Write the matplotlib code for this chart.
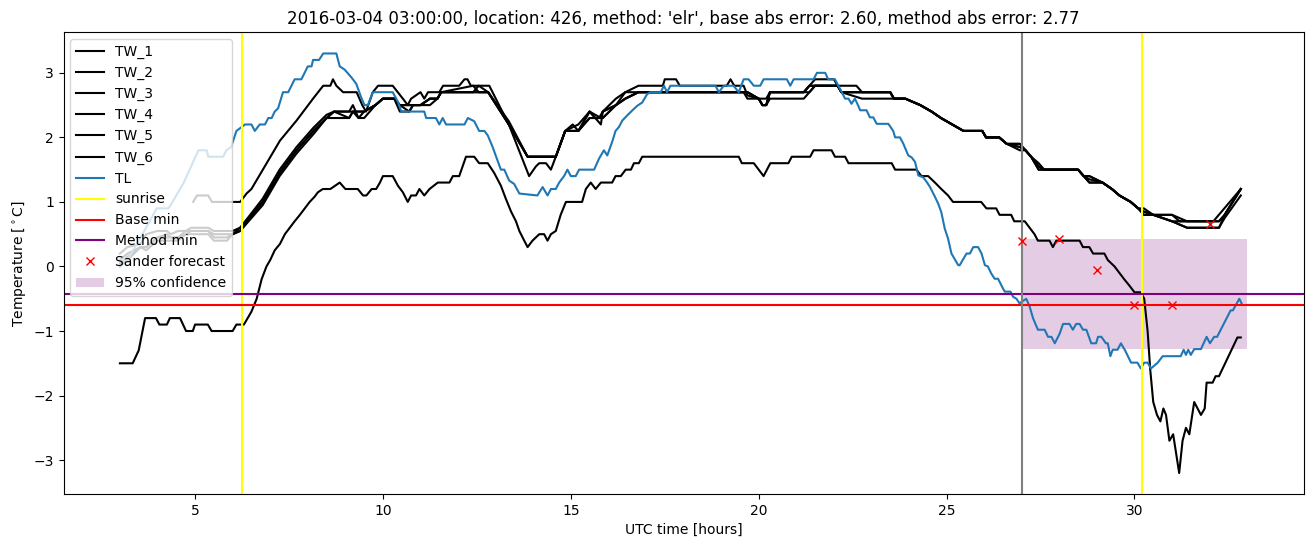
import numpy as np
import matplotlib
matplotlib.use("Agg")
import matplotlib.pyplot as plt

# ---------------- data ----------------
title = ("2016-03-04 03:00:00, location: 426, method: 'elr', "
         "base abs error: 2.60, method abs error: 2.77")

# TW_1 (upper single line that later merges into bundle)
tw1_hours = [4.95, 5.05, 5.35, 5.45, 6.2, 6.37, 6.5, 7.26, 7.7, 8.14, 8.41, 8.6,
             8.67, 8.76, 8.94, 9.3, 9.45, 9.55, 9.73, 9.87, 10.26, 10.53, 10.66, 10.75, 11.0, 11.1,
             11.2, 11.5, 11.6, 12.03, 12.17, 12.25, 12.34, 12.83, 13.35, 13.89, 14.07, 14.16, 14.34,
             14.47, 14.6, 14.85, 15.05, 15.2, 15.5, 15.65, 15.75, 15.85, 16.2, 16.45, 16.8, 17.45,
             17.5, 17.8, 17.9, 19.15, 19.25, 19.35, 19.6, 19.7, 20.0, 20.1, 20.2, 20.3, 21.2, 21.35,
             21.5, 22.0, 22.1, 22.6, 22.75, 23.5, 23.6, 23.9, 24.3, 24.6, 24.85, 25.15, 25.45, 25.95,
             26.05, 26.4, 26.6, 26.95, 27.1, 27.25, 27.45, 28.5, 28.65, 28.8, 29.15, 29.4, 29.6, 29.9,
             30.1, 30.25, 30.5, 31.0, 31.2, 31.9, 32.1, 32.83]
tw1_vals = [1.0, 1.1, 1.1, 1.0, 1.0, 1.13, 1.2, 1.95, 2.26, 2.6, 2.8, 2.8,
            2.9, 2.8, 2.7, 2.7, 2.5, 2.4, 2.7, 2.8, 2.8, 2.6, 2.5, 2.6, 2.7, 2.6,
            2.7, 2.7, 2.8, 2.8, 2.9, 2.9, 2.8, 2.8, 2.2, 1.4, 1.55, 1.6, 1.6,
            1.5, 1.7, 2.1, 2.2, 2.1, 2.4, 2.3, 2.3, 2.4, 2.6, 2.7, 2.8, 2.8,
            2.9, 2.9, 2.8, 2.8, 2.9, 2.8, 2.8, 2.65, 2.6, 2.5, 2.5, 2.7, 2.7, 2.8,
            2.9, 2.9, 2.8, 2.8, 2.7, 2.7, 2.6, 2.6, 2.5, 2.4, 2.3, 2.2, 2.1, 2.1,
            2.0, 2.0, 1.9, 1.9, 1.8, 1.7, 1.5, 1.5, 1.4, 1.3, 1.3, 1.2, 1.1, 1.0,
            0.9, 0.8, 0.8, 0.8, 0.7, 0.7, 0.7, 1.2]

# TW_2 .. TW_5 (bundle) share these hours
bundle_hours = [3.0, 3.2, 3.55, 3.7, 4.0, 4.25, 4.35, 4.55, 4.75, 4.9,
                5.35, 5.5, 5.85, 6.0, 6.2, 6.8, 7.25, 7.7, 8.15, 8.5,
                8.7, 9.1, 9.2, 9.35, 9.5, 9.8, 10.0, 10.3, 10.45, 10.7,
                10.8, 11.0, 11.25, 11.45, 11.55, 12.4, 12.55, 12.8, 13.35, 13.85,
                14.6, 14.85, 15.2, 15.5, 15.8, 15.85, 16.2, 16.45, 16.8, 17.25,
                19.6, 19.7, 20.0, 20.1, 20.2, 20.3, 21.2, 21.35, 21.5, 22.0,
                22.1, 22.2, 22.75, 23.5, 23.6, 23.9, 24.3, 24.6, 24.85, 25.15,
                25.45, 25.95, 26.05, 26.4, 26.6, 26.95, 27.1, 27.25, 27.45, 27.6,
                28.5, 28.65, 28.8, 29.15, 29.4, 29.6, 29.9, 30.1, 30.25, 30.5,
                31.0, 31.4, 32.25, 32.4, 32.83]
tw2_vals = [0.2, 0.3, 0.35, 0.5, 0.55, 0.55, 0.5, 0.55, 0.55, 0.6,
            0.6, 0.55, 0.55, 0.55, 0.6, 1.05, 1.5, 1.85, 2.15, 2.35,
            2.4, 2.4, 2.5, 2.3, 2.4, 2.5, 2.6, 2.6, 2.4, 2.4,
            2.5, 2.5, 2.6, 2.6, 2.7, 2.8, 2.7, 2.7, 2.25, 1.7,
            1.7, 2.1, 2.2, 2.4, 2.2, 2.4, 2.5, 2.7, 2.7, 2.7,
            2.7, 2.6, 2.6, 2.5, 2.5, 2.7, 2.7, 2.8, 2.8, 2.8,
            2.8, 2.7, 2.7, 2.7, 2.6, 2.6, 2.5, 2.4, 2.3, 2.2,
            2.1, 2.1, 2.0, 2.0, 1.9, 1.9, 1.8, 1.7, 1.6, 1.5,
            1.5, 1.4, 1.4, 1.3, 1.2, 1.1, 1.0, 0.9, 0.9, 0.8,
            0.8, 0.7, 0.7, 0.8, 1.2]
tw3_vals = [0.0, 0.1, 0.3, 0.25, 0.4, 0.4, 0.4, 0.4, 0.5, 0.5,
            0.5, 0.4, 0.4, 0.5, 0.55, 0.95, 1.4, 1.75, 2.05, 2.3,
            2.4, 2.3, 2.4, 2.4, 2.4, 2.5, 2.6, 2.6, 2.5, 2.5,
            2.5, 2.5, 2.6, 2.6, 2.7, 2.7, 2.7, 2.7, 2.2, 1.7,
            1.7, 2.1, 2.1, 2.3, 2.3, 2.4, 2.5, 2.6, 2.7, 2.7,
            2.7, 2.7, 2.6, 2.5, 2.5, 2.7, 2.7, 2.8, 2.8, 2.8,
            2.8, 2.7, 2.7, 2.7, 2.6, 2.6, 2.5, 2.4, 2.3, 2.2,
            2.1, 2.1, 2.0, 2.0, 1.9, 1.85, 1.8, 1.7, 1.55, 1.5,
            1.5, 1.4, 1.35, 1.3, 1.2, 1.1, 1.0, 0.9, 0.85, 0.8,
            0.7, 0.6, 0.6, 0.8, 1.2]
tw4_vals = [0.05, 0.15, 0.3, 0.3, 0.45, 0.45, 0.45, 0.45, 0.5, 0.55,
            0.55, 0.45, 0.45, 0.5, 0.55, 1.0, 1.45, 1.8, 2.1, 2.3,
            2.3, 2.3, 2.4, 2.3, 2.3, 2.5, 2.6, 2.6, 2.5, 2.4,
            2.5, 2.5, 2.5, 2.6, 2.7, 2.7, 2.7, 2.7, 2.2, 1.7,
            1.7, 2.1, 2.1, 2.3, 2.3, 2.3, 2.5, 2.6, 2.7, 2.7,
            2.7, 2.7, 2.6, 2.5, 2.5, 2.6, 2.6, 2.7, 2.8, 2.8,
            2.8, 2.7, 2.6, 2.6, 2.6, 2.6, 2.5, 2.4, 2.3, 2.2,
            2.1, 2.1, 2.0, 2.0, 1.9, 1.8, 1.8, 1.7, 1.5, 1.5,
            1.5, 1.4, 1.3, 1.3, 1.2, 1.1, 1.0, 0.9, 0.8, 0.8,
            0.7, 0.6, 0.6, 0.75, 1.1]
tw5_vals = [0.1, 0.2, 0.3, 0.3, 0.45, 0.5, 0.45, 0.45, 0.55, 0.55,
            0.55, 0.5, 0.5, 0.5, 0.6, 1.0, 1.45, 1.8, 2.1, 2.3,
            2.4, 2.4, 2.4, 2.4, 2.4, 2.5, 2.6, 2.6, 2.5, 2.5,
            2.5, 2.5, 2.6, 2.6, 2.7, 2.7, 2.8, 2.7, 2.2, 1.7,
            1.7, 2.1, 2.1, 2.4, 2.3, 2.3, 2.5, 2.6, 2.7, 2.7,
            2.7, 2.7, 2.6, 2.6, 2.6, 2.7, 2.7, 2.7, 2.8, 2.8,
            2.8, 2.7, 2.7, 2.7, 2.6, 2.6, 2.5, 2.4, 2.3, 2.2,
            2.1, 2.1, 2.0, 2.0, 1.9, 1.85, 1.8, 1.7, 1.55, 1.5,
            1.5, 1.4, 1.4, 1.3, 1.2, 1.1, 1.0, 0.9, 0.85, 0.8,
            0.7, 0.7, 0.7, 0.8, 1.2]

# TW_6 (lower line)
tw6_hours = [3.0, 3.34, 3.5, 3.67, 3.96, 4.05, 4.25, 4.33, 4.6, 4.76, 4.94, 5.0, 5.34, 5.44, 6.0,
             6.1, 6.3, 6.4, 6.5, 6.64, 6.77, 6.9, 7.0, 7.12, 7.26, 7.39, 7.52, 7.65, 7.79, 7.92,
             8.05, 8.18, 8.27, 8.4, 8.6, 8.85, 9.0, 9.33, 9.47, 9.56, 9.7, 9.82, 9.92, 10.0,
             10.26, 10.4, 10.53, 10.66, 10.75, 10.88, 10.97, 11.1, 11.24, 11.46, 11.77, 11.86,
             12.03, 12.21, 12.43, 12.56, 12.79, 12.96, 13.14, 13.27, 13.41, 13.54, 13.63, 13.76,
             13.85, 13.98, 14.16, 14.29, 14.38, 14.47, 14.6, 14.73, 14.87, 15.3, 15.4, 15.53,
             15.66, 15.8, 16.1, 16.19, 16.33, 16.46, 16.6, 16.68, 16.81, 16.9, 19.47, 19.55,
             19.87, 20.0, 20.13, 20.31, 20.79, 20.88, 21.37, 21.46, 21.94, 22.03, 22.3, 22.39,
             23.54, 23.63, 24.2, 24.33, 24.51, 24.69, 24.86, 25.04, 25.17, 25.92, 26.06, 26.32,
             26.41, 26.72, 26.8, 27.08, 27.21, 27.34, 27.43, 27.74, 27.83, 27.92, 28.54, 28.63,
             28.8, 28.9, 29.2, 29.29, 29.47, 29.6, 29.73, 29.87, 30.0, 30.17, 30.26, 30.35,
             30.42, 30.5, 30.6, 30.69, 30.77, 30.84, 30.93, 31.03, 31.19, 31.28, 31.37, 31.46,
             31.59, 31.68, 31.77, 31.87, 31.92, 32.08, 32.16, 32.25, 32.74, 32.83]
tw6_vals = [-1.5, -1.5, -1.3, -0.8, -0.8, -0.9, -0.9, -0.8, -0.8, -1.0, -1.0, -0.9, -0.9, -1.0, -1.0,
            -0.9, -0.9, -0.8, -0.7, -0.5, -0.2, 0.0, 0.1, 0.25, 0.35, 0.5, 0.6, 0.7, 0.8, 0.9,
            1.0, 1.08, 1.15, 1.2, 1.2, 1.3, 1.2, 1.2, 1.1, 1.1, 1.2, 1.2, 1.3, 1.4,
            1.4, 1.25, 1.15, 1.0, 1.1, 1.1, 1.2, 1.1, 1.2, 1.3, 1.3, 1.4,
            1.4, 1.7, 1.7, 1.6, 1.6, 1.45, 1.25, 1.05, 0.85, 0.7, 0.55, 0.4,
            0.3, 0.4, 0.5, 0.5, 0.4, 0.5, 0.55, 0.8, 1.0, 1.0, 1.2, 1.3,
            1.2, 1.3, 1.3, 1.4, 1.4, 1.5, 1.5, 1.6, 1.6, 1.7, 1.7, 1.6,
            1.6, 1.5, 1.4, 1.6, 1.6, 1.7, 1.7, 1.8, 1.8, 1.7, 1.7, 1.6,
            1.6, 1.5, 1.5, 1.4, 1.4, 1.3, 1.2, 1.1, 1.0, 1.0, 0.9, 0.9,
            0.8, 0.8, 0.7, 0.7, 0.6, 0.5, 0.4, 0.4, 0.3, 0.4, 0.4, 0.3,
            0.3, 0.2, 0.2, 0.1, 0.0, -0.1, -0.2, -0.3, -0.4, -0.4, -0.5, -1.0,
            -1.6, -2.1, -2.3, -2.4, -2.2, -2.3, -2.7, -2.6, -3.2, -2.7, -2.5, -2.6,
            -2.1, -2.2, -2.3, -2.2, -1.8, -1.8, -1.7, -1.7, -1.1, -1.1]

# TL
tl_hours = [3.0, 3.2, 3.6, 3.98, 4.29, 4.4, 4.7, 5.09, 5.31, 5.35, 5.75, 5.83, 5.96, 6.1, 6.33,
            6.5, 6.59, 6.72, 6.86, 6.95, 7.04, 7.12, 7.21, 7.34, 7.48, 7.65, 7.83, 8.0, 8.1,
            8.14, 8.3, 8.41, 8.76, 8.85, 8.98, 9.16, 9.29, 9.42, 9.51, 9.6, 9.73, 10.26, 10.4,
            10.49, 11.1, 11.15, 11.41, 11.5, 11.59, 11.68, 12.17, 12.26, 12.43, 12.56, 12.7,
            12.79, 12.92, 13.05, 13.14, 13.23, 13.36, 13.49, 13.63, 14.11, 14.25, 14.38, 14.47,
            14.6, 14.69, 14.82, 14.91, 15.0, 15.13, 15.22, 15.62, 15.75, 15.88, 15.97, 16.1,
            16.19, 16.28, 16.37, 16.5, 16.64, 16.77, 16.9, 17.03, 17.12, 17.39, 17.48, 17.56,
            17.65, 18.85, 18.94, 19.07, 19.33, 19.47, 19.6, 19.73, 19.87, 20.04, 20.13, 20.75,
            20.84, 20.93, 21.46, 21.55, 21.77, 21.85, 22.03, 22.12, 22.21, 22.3, 22.39, 22.47,
            22.56, 22.65, 22.7, 22.87, 22.96, 23.05, 23.14, 23.45, 23.58, 23.63, 23.76, 23.85,
            23.98, 24.07, 24.16, 24.25, 24.38, 24.47, 24.56, 24.69, 24.78, 24.86, 24.95, 25.04,
            25.13, 25.31, 25.35, 25.53, 25.62, 25.71, 25.84, 25.93, 26.02, 26.1, 26.19, 26.28,
            26.37, 26.5, 26.55, 26.7, 26.77, 26.86, 26.94, 27.12, 27.21, 27.3, 27.43, 27.61,
            27.7, 27.79, 27.88, 28.01, 28.1, 28.27, 28.36, 28.45, 28.54, 28.63, 28.72, 28.85,
            28.98, 29.03, 29.12, 29.24, 29.29, 29.36, 29.42, 29.55, 29.64, 29.75, 29.91, 30.08,
            30.17, 30.26, 30.35, 30.44, 30.62, 30.75, 31.23, 31.31, 31.37, 31.43, 31.5, 31.59,
            31.77, 31.92, 32.01, 32.12, 32.2, 32.47, 32.56, 32.62, 32.79, 32.85]
tl_vals = [0.1, 0.1, 0.5, 0.9, 0.9, 1.0, 1.3, 1.8, 1.8, 1.7, 1.7, 1.8, 1.85, 2.1, 2.2,
           2.2, 2.1, 2.2, 2.2, 2.3, 2.3, 2.4, 2.45, 2.7, 2.7, 2.9, 2.9, 3.1, 3.1,
           3.2, 3.2, 3.3, 3.3, 3.1, 3.05, 2.93, 2.83, 2.62, 2.5, 2.5, 2.7, 2.7, 2.55,
           2.4, 2.4, 2.3, 2.3, 2.2, 2.3, 2.2, 2.2, 2.3, 2.25, 2.1, 2.1,
           2.03, 1.85, 1.64, 1.5, 1.5, 1.33, 1.28, 1.13, 1.1, 1.23, 1.1, 1.2,
           1.2, 1.3, 1.4, 1.5, 1.4, 1.4, 1.5, 1.5, 1.67, 1.8, 1.72, 1.93,
           2.1, 2.16, 2.26, 2.34, 2.42, 2.49, 2.54, 2.67, 2.7, 2.7, 2.8, 2.7,
           2.8, 2.8, 2.7, 2.8, 2.8, 2.7, 2.9, 2.9, 2.8, 2.8, 2.9, 2.9,
           2.8, 2.9, 2.9, 3.0, 3.0, 2.9, 2.9, 2.8, 2.7, 2.6, 2.6, 2.52,
           2.6, 2.49, 2.42, 2.42, 2.31, 2.31, 2.21, 2.21, 2.1, 2.0, 2.0, 1.9,
           1.72, 1.69, 1.62, 1.41, 1.38, 1.31, 1.23, 1.08, 0.97, 0.84, 0.59, 0.43,
           0.2, 0.02, 0.02, 0.2, 0.2, 0.3, 0.3, 0.2, 0.02, 0.0, -0.11, -0.19,
           -0.19, -0.34, -0.39, -0.39, -0.47, -0.5, -0.57, -0.5, -0.62, -0.8, -0.98, -0.98,
           -1.09, -1.09, -1.19, -1.04, -0.89, -0.89, -0.98, -0.89, -0.89, -0.98, -0.98, -1.19,
           -1.19, -1.09, -1.09, -1.19, -1.19, -1.39, -1.29, -1.29, -1.19, -1.3, -1.49, -1.49,
           -1.58, -1.49, -1.49, -1.58, -1.49, -1.39, -1.39, -1.29, -1.37, -1.29, -1.37, -1.28,
           -1.28, -1.09, -1.19, -1.09, -1.09, -0.78, -0.68, -0.68, -0.5, -0.57]

sunrise_hours = [6.25, 30.2]
forecast_start = 27.0
base_min = -0.60
method_min = -0.43
forecast_hours = [27, 28, 29, 30, 31, 32]
forecast_vals = [0.40, 0.43, -0.05, -0.60, -0.59, 0.66]
conf_hours = [27.0, 33.0]
conf_low = [-1.28, -1.28]
conf_high = [0.43, 0.43]

# ---------------- plot ----------------
fig = plt.figure(figsize=(13.13, 5.47), dpi=100)
ax = fig.add_axes([0.0484, 0.0969, 0.9444, 0.8437])

tw_series = [
    ("TW_1", tw1_hours, tw1_vals),
    ("TW_2", bundle_hours, tw2_vals),
    ("TW_3", bundle_hours, tw3_vals),
    ("TW_4", bundle_hours, tw4_vals),
    ("TW_5", bundle_hours, tw5_vals),
    ("TW_6", tw6_hours, tw6_vals),
]
for name, h, v in tw_series:
    ax.plot(h, v, color="black", label=name)
ax.plot(tl_hours, tl_vals, color="C0", label="TL")
ax.axvline(sunrise_hours[0], color="yellow", label="sunrise")
ax.axvline(sunrise_hours[1], color="yellow")
ax.axhline(base_min, color="red", label="Base min")
ax.axhline(method_min, color="purple", label="Method min")
ax.axvline(forecast_start, color="gray")
ax.plot(forecast_hours, forecast_vals, "x", color="red", label="Sander forecast")
ax.fill_between(conf_hours, conf_low, conf_high, color="purple", alpha=0.2,
                linewidth=0, label="95% confidence")

ax.set_xlim(1.5, 34.5)
ax.set_ylim(-3.525, 3.625)
ax.set_title(title)
ax.set_xlabel("UTC time [hours]")
ax.set_ylabel(r"Temperature [$^\circ$C]")
ax.legend(loc="upper left")

fig.savefig("out.png", dpi=100)
